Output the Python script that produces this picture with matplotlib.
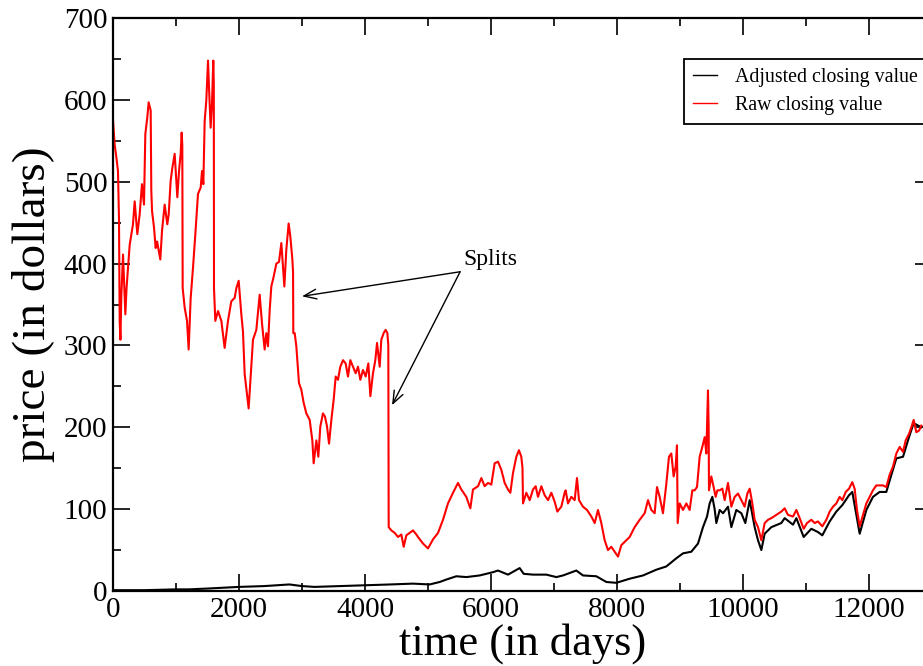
"""
Raw vs. split-adjusted closing price of a stock over ~35 years (xmgrace look).
"""

import matplotlib
matplotlib.use("Agg")
import matplotlib.pyplot as plt
from matplotlib.ticker import MultipleLocator

# Raw closing value (sharp drops are the splits)
raw_days = [0, 27, 53, 79, 95, 106, 118, 132, 159, 196, 215, 265, 317, 344, 386, 423, 460, 492,
            513, 545, 566, 598, 608, 620, 651, 677, 700, 751, 778, 820, 862, 884, 915, 942, 979,
            1005, 1021, 1048, 1074, 1090, 1100, 1106, 1138, 1175, 1201, 1233, 1270, 1307, 1349,
            1392, 1413, 1434, 1455, 1481, 1508, 1524, 1550, 1571, 1592, 1600, 1603, 1624, 1667,
            1720, 1772, 1825, 1878, 1931, 1958, 1995, 2037, 2063, 2090, 2120, 2153, 2185, 2222,
            2275, 2328, 2365, 2407, 2434, 2460, 2487, 2513, 2550, 2593, 2635, 2672, 2698, 2720,
            2751, 2788, 2815, 2847, 2858, 2862, 2884, 2910, 2937, 2952, 2989, 3026, 3069, 3122,
            3164, 3185, 3228, 3259, 3291, 3333, 3365, 3397, 3429, 3466, 3503, 3535, 3571, 3608,
            3651, 3693, 3730, 3767, 3809, 3852, 3889, 3926, 3968, 4011, 4053, 4085, 4127, 4164,
            4191, 4233, 4259, 4296, 4328, 4355, 4370, 4376, 4418, 4471, 4524, 4577, 4614, 4656,
            4709, 4762, 4815, 4841, 4921, 5000, 5079, 5159, 5238, 5317, 5397, 5476, 5529, 5608,
            5672, 5714, 5794, 5847, 5899, 5952, 6005, 6058, 6111, 6164, 6217, 6270, 6307, 6349,
            6402, 6444, 6481, 6500, 6508, 6561, 6614, 6667, 6709, 6746, 6799, 6852, 6905, 6958,
            7011, 7053, 7116, 7169, 7185, 7222, 7275, 7328, 7365, 7397, 7460, 7524, 7593, 7646,
            7698, 7751, 7804, 7857, 7910, 7963, 8016, 8069, 8122, 8201, 8280, 8360, 8439, 8492,
            8545, 8598, 8635, 8677, 8730, 8783, 8825, 8862, 8899, 8931, 8952, 8963, 8995, 9048,
            9101, 9153, 9196, 9233, 9270, 9312, 9354, 9392, 9418, 9444, 9455, 9460, 9497, 9534,
            9566, 9593, 9630, 9672, 9709, 9762, 9815, 9868, 9921, 9974, 10026, 10069, 10106,
            10148, 10185, 10238, 10291, 10344, 10397, 10450, 10529, 10608, 10661, 10714, 10794,
            10847, 10910, 10963, 11016, 11085, 11138, 11190, 11259, 11323, 11376, 11429, 11481,
            11534, 11577, 11630, 11683, 11735, 11772, 11809, 11852, 11905, 11958, 12011, 12063,
            12116, 12169, 12222, 12275, 12328, 12381, 12434, 12487, 12540, 12582, 12635, 12672,
            12709, 12751, 12794, 12831]
raw_vals = [575, 545, 530, 513, 455, 330, 307, 360, 411, 338, 370, 423, 448, 476, 436, 460, 497, 472,
            558, 579, 597, 587, 489, 464, 444, 419, 427, 405, 440, 472, 448, 460, 501, 517, 534,
            501, 481, 513, 534, 560, 545, 370, 346, 330, 295, 358, 395, 436, 485,
            493, 513, 497, 574, 599, 648, 615, 566, 595, 648, 620, 370, 330, 342,
            330, 297, 330, 354, 358, 370, 379, 338, 317, 265, 245, 223, 262, 307,
            319, 362, 327, 295, 315, 299, 343, 372, 384, 400, 402, 425, 397, 372,
            417, 449, 433, 405, 390, 315, 315, 299, 270, 254, 246, 230, 217, 209,
            184, 156, 184, 164, 201, 217, 213, 201, 180, 209, 234, 262, 258, 274,
            282, 278, 262, 282, 274, 266, 274, 258, 270, 262, 278, 238, 266, 282,
            303, 274, 307, 315, 319, 315, 300, 78, 74, 71, 66, 69, 54, 68,
            71, 74, 69, 66, 58, 52, 63, 71, 87, 107, 120, 132, 124, 115,
            101, 124, 128, 138, 128, 132, 130, 156, 158, 148, 132, 124, 120, 144,
            164, 172, 164, 150, 107, 120, 111, 124, 128, 115, 128, 117, 111, 120,
            109, 97, 103, 120, 123, 107, 115, 111, 138, 111, 103, 99, 91, 83,
            99, 83, 62, 50, 54, 48, 42, 56, 60, 66, 78, 87, 95, 111,
            99, 95, 127, 115, 95, 131, 164, 168, 140, 152, 178, 83, 107, 99,
            107, 99, 123, 123, 127, 164, 176, 188, 168, 245, 200, 123, 140, 127,
            115, 123, 123, 125, 111, 132, 103, 115, 119, 111, 103, 119, 125,
            107, 87, 78, 62, 83, 87, 89, 93, 97, 101, 93, 91,
            99, 87, 76, 83, 87, 83, 85, 79, 87, 97, 103, 107,
            115, 111, 121, 125, 133, 125, 99, 79, 93, 107, 115, 123,
            129, 129, 129, 127, 142, 152, 168, 176, 170, 184, 192, 200,
            209, 194, 196, 202]

# Adjusted closing value
adj_days = [0, 500, 1000, 1200, 1500, 2000, 2400, 2800, 3000, 3200, 3600, 4000, 4400, 4762, 5026,
            5185, 5291, 5450, 5608, 5820, 6032, 6111, 6270, 6455, 6519, 6667, 6878, 7037, 7143,
            7354, 7460, 7672, 7831, 7989, 8201, 8413, 8624, 8783, 8942, 9048, 9180, 9286, 9365,
            9429, 9471, 9513, 9550, 9577, 9630, 9683, 9762, 9815, 9894, 9974, 10037, 10106, 10185,
            10238, 10291, 10344, 10450, 10608, 10661, 10794, 10847, 10963, 11085, 11190, 11259,
            11376, 11481, 11577, 11683, 11735, 11852, 11958, 12063, 12169, 12275, 12328, 12434,
            12540, 12635, 12709, 12831]
adj_vals = [1, 1, 2, 2, 3, 5, 6, 8, 6, 5, 6, 7, 8, 9, 8,
            11, 14, 18, 17, 19, 23, 25, 20, 28, 21, 20, 20, 17, 19,
            25, 19, 18, 11, 10, 15, 19, 26, 30, 40, 46, 48, 58, 78,
            91, 107, 115, 100, 83, 99, 95, 103, 78, 99, 95, 83, 111, 78,
            62, 50, 70, 78, 83, 89, 81, 89, 66, 76, 72, 68,
            85, 97, 105, 117, 121, 70, 99, 115, 121, 121, 135, 162,
            164, 188, 205, 200]

SERIF = ["Liberation Serif", "DejaVu Serif"]

plt.rcParams.update({
    "font.family": SERIF,
    "axes.linewidth": 1.6,
    "xtick.direction": "in",
    "ytick.direction": "in",
    "xtick.top": True,
    "ytick.right": True,
})

fig = plt.figure(figsize=(9.23, 6.66), dpi=100)
# right spine sits just past the image edge, as in the cropped original
ax = fig.add_axes([113 / 923, 75 / 666, 819 / 923, 573 / 666])

ax.plot(adj_days, adj_vals, color="black", lw=1.5, label="Adjusted closing value")
ax.plot(raw_days, raw_vals, color="red", lw=1.5, label="Raw closing value")

ax.set_xlim(0, 13000)
ax.set_ylim(0, 700)
ax.xaxis.set_major_locator(MultipleLocator(2000))
ax.xaxis.set_minor_locator(MultipleLocator(1000))
ax.yaxis.set_major_locator(MultipleLocator(100))
ax.yaxis.set_minor_locator(MultipleLocator(50))
ax.tick_params(which="major", length=12, width=1.2, labelsize=21, pad=4)
ax.tick_params(which="minor", length=6, width=1.2)

ax.set_xlabel("time (in days)", fontsize=32, labelpad=0)
ax.set_ylabel("price (in dollars)", fontsize=34, labelpad=6)

# splits annotation
start = (5510, 390)
for tip in [(3000, 360), (4429, 227)]:
    ax.annotate("", xy=tip, xytext=start,
                arrowprops=dict(arrowstyle="->,head_length=0.9,head_width=0.35",
                                color="black", lw=1.0, shrinkA=0, shrinkB=0))
ax.text(5560, 392, "Splits", fontsize=17, ha="left", va="bottom")

leg = ax.legend(loc="upper left", bbox_to_anchor=(684 / 923, 1 - 59 / 666),
                bbox_transform=fig.transFigure, fontsize=14.3, frameon=True,
                fancybox=False, edgecolor="black", framealpha=1.0, borderaxespad=0,
                handlelength=1.2, handletextpad=0.9, labelspacing=0.45,
                borderpad=0.45)
leg.get_frame().set_linewidth(1.3)
leg.set_zorder(10)
for h in leg.get_lines():
    h.set_linewidth(1.0)

fig.savefig("out.png", dpi=100)
